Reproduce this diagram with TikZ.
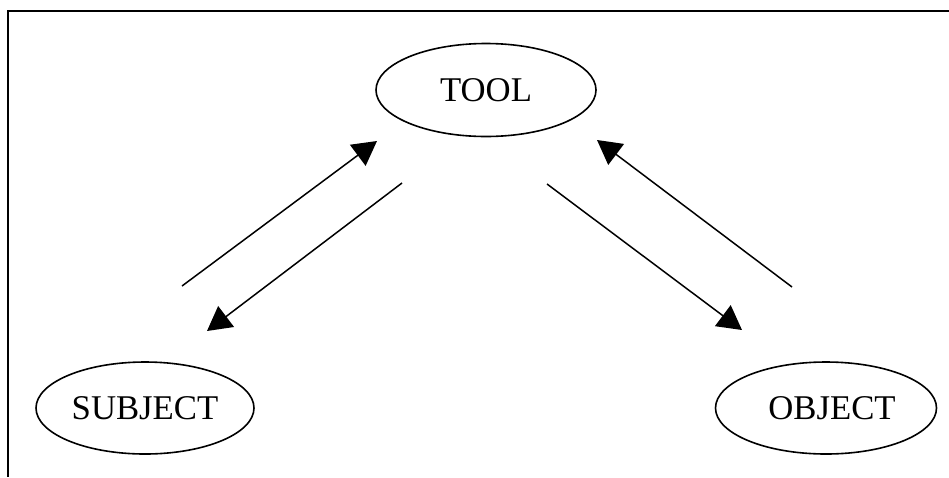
\documentclass[tikz,border=0pt]{standalone}
\usepackage{fontspec}
\setmainfont{Liberation Serif}
\usetikzlibrary{shapes.geometric,arrows.meta}
\begin{document}
\begin{tikzpicture}[x=1pt,y=-1pt,
  ent/.style={draw,ellipse,line width=1.6pt,inner sep=0pt,minimum width=220pt,minimum height=93pt,
    font=\fontsize{34.7}{40}\selectfont},
  conn/.style={line width=1.5pt,-{Triangle[length=24pt,width=26pt]}},
  frameline/.style={line width=2.4pt}]
\useasboundingbox (0,0) rectangle (949,477);
\draw[frameline] (949,11) -- (8,11) -- (8,477);
\node[ent] (tool) at (486,90) {TOOL};
\node[ent,minimum width=218pt,minimum height=92pt] (subject) at (145,408) {SUBJECT};
\node[ent,minimum width=221pt,minimum height=92pt] (object) at (826,408) {\hspace*{12pt}OBJECT};
\coordinate (a1s) at (182,286);
\coordinate (a1e) at (377,141);
\coordinate (a2s) at (402,183);
\coordinate (a2e) at (207,331);
\coordinate (a3s) at (792,287);
\coordinate (a3e) at (597,140);
\coordinate (a4s) at (547,184);
\coordinate (a4e) at (742,330);
\draw[conn] (a1s) -- (a1e);
\draw[conn] (a2s) -- (a2e);
\draw[conn] (a3s) -- (a3e);
\draw[conn] (a4s) -- (a4e);
\end{tikzpicture}
\end{document}
